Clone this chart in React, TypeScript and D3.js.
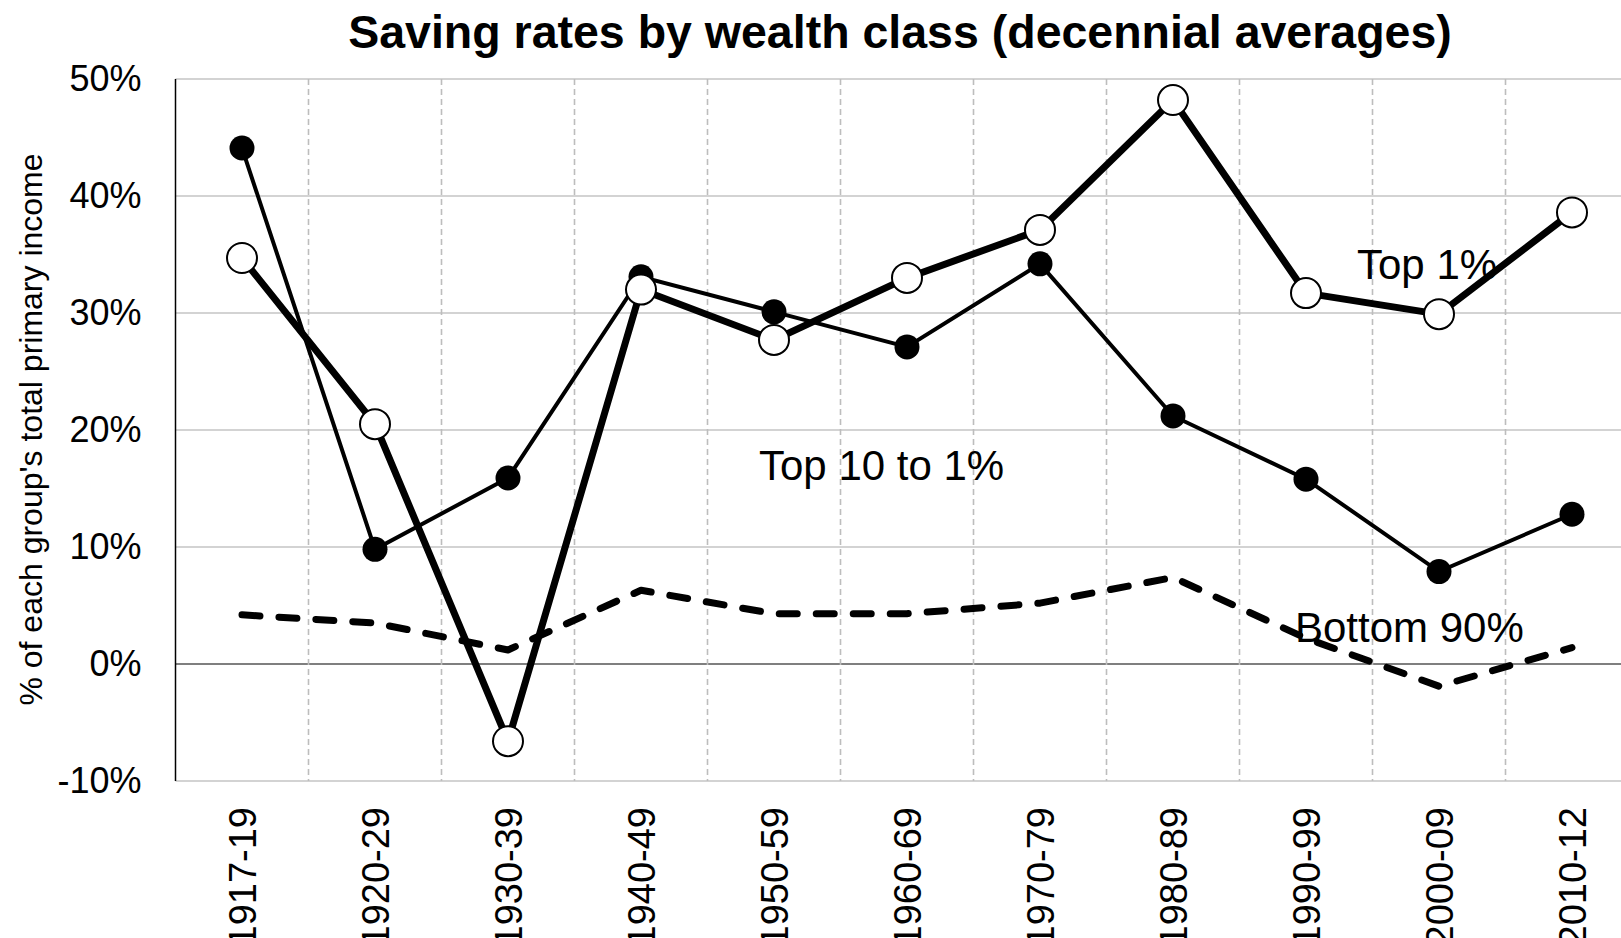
import React, { useEffect, useRef } from 'react';
import * as d3 from 'd3';

// decades on the x axis
const periods = ['1917-19', '1920-29', '1930-39', '1940-49', '1950-59', '1960-69', '1970-79', '1980-89', '1990-99', '2000-09', '2010-12'];

// saving rates, % of each group's total primary income
const top1 = [34.7, 20.5, -6.6, 32.0, 27.7, 33.0, 37.1, 48.2, 31.7, 29.9, 38.6];
const top10to1 = [44.1, 9.8, 15.9, 33.1, 30.1, 27.1, 34.2, 21.2, 15.8, 7.9, 12.8];
const bottom90 = [4.2, 3.5, 1.2, 6.3, 4.3, 4.3, 5.2, 7.4, 2.2, -1.9, 1.4];

const yTicks = [-10, 0, 10, 20, 30, 40, 50];

const labels = [
  { text: 'Top 10 to 1%', period: '1960-69', value: 15.7, dx: -148 },
  { text: 'Top 1%', period: '1990-99', value: 32.9, dx: 51 },
  { text: 'Bottom 90%', period: '1990-99', value: 1.85, dx: -11 },
];

const App = () => {
  const svgRef = useRef<SVGSVGElement | null>(null);

  const width = 1621;
  const height = 938;
  const left = 175.5;
  const step = 133;
  const top = 79;
  const bottom = 781;
  const font = '"Liberation Sans", Arial, sans-serif';

  useEffect(() => {
    const svg = d3.select(svgRef.current);
    svg.selectAll('*').remove();

    const x = d3.scaleBand<string>()
      .domain(periods)
      .range([left, left + step * periods.length])
      .padding(0);
    const cx = (p: string) => (x(p) as number) + x.bandwidth() / 2;

    const y = d3.scaleLinear()
      .domain([-10, 50])
      .range([bottom, top]);

    // horizontal grid
    svg.append('g')
      .selectAll('line')
      .data(yTicks)
      .join('line')
      .attr('x1', left)
      .attr('x2', width)
      .attr('y1', d => y(d))
      .attr('y2', d => y(d))
      .attr('stroke', d => (d === 0 ? '#000' : '#c4c4c4'))
      .attr('stroke-width', d => (d === 0 ? 1.2 : 1.6));

    // vertical dashed grid between periods
    svg.append('g')
      .selectAll('line')
      .data(periods.slice(1))
      .join('line')
      .attr('x1', d => x(d) as number)
      .attr('x2', d => x(d) as number)
      .attr('y1', top)
      .attr('y2', bottom)
      .attr('stroke', '#bdbdbd')
      .attr('stroke-width', 1.6)
      .attr('stroke-dasharray', '6 4');

    // y axis
    svg.append('line')
      .attr('x1', left).attr('x2', left)
      .attr('y1', top).attr('y2', bottom)
      .attr('stroke', '#000')
      .attr('stroke-width', 1.5);

    const yAxis = svg.append('g')
      .attr('transform', `translate(${left},0)`)
      .call(d3.axisLeft(y).tickValues(yTicks).tickSize(0).tickPadding(34).tickFormat(d => `${d}%`));
    yAxis.select('.domain').remove();
    yAxis.selectAll('text')
      .attr('font-family', font)
      .attr('font-size', 36)
      .attr('fill', '#000');

    // x axis labels, rotated
    const xAxis = svg.append('g')
      .attr('transform', `translate(0,${bottom})`)
      .call(d3.axisBottom(x).tickSize(0));
    xAxis.select('.domain').remove();
    xAxis.selectAll('text')
      .attr('font-family', font)
      .attr('font-size', 38)
      .attr('fill', '#000')
      .attr('transform', 'rotate(-90)')
      .attr('x', -26)
      .attr('y', 0)
      .attr('dy', '0.36em')
      .attr('text-anchor', 'end');

    // title
    svg.append('text')
      .attr('x', 900)
      .attr('y', 48)
      .attr('text-anchor', 'middle')
      .attr('font-family', font)
      .attr('font-weight', 'bold')
      .attr('font-size', 46.5)
      .text('Saving rates by wealth class (decennial averages)');

    // y axis title
    svg.append('text')
      .attr('transform', `translate(42,${(152 + 707) / 2}) rotate(-90)`)
      .attr('text-anchor', 'middle')
      .attr('font-family', font)
      .attr('font-size', 32)
      .text("% of each group's total primary income");

    // series labels (under the lines)
    svg.append('g')
      .selectAll('text')
      .data(labels)
      .join('text')
      .attr('x', d => cx(d.period) + d.dx)
      .attr('y', d => y(d.value))
      .attr('font-family', font)
      .attr('font-size', 42)
      .text(d => d.text);

    const line = d3.line<number>()
      .x((_, i) => cx(periods[i]))
      .y(d => y(d));

    // bottom 90%
    svg.append('path')
      .datum(bottom90)
      .attr('fill', 'none')
      .attr('stroke', '#000')
      .attr('stroke-width', 7)
      .attr('stroke-linecap', 'round')
      .attr('stroke-linejoin', 'round')
      .attr('stroke-dasharray', '18 19')
      .attr('d', line);

    // top 10 to 1%
    svg.append('path')
      .datum(top10to1)
      .attr('fill', 'none')
      .attr('stroke', '#000')
      .attr('stroke-width', 4)
      .attr('d', line);
    svg.append('g')
      .selectAll('circle')
      .data(top10to1)
      .join('circle')
      .attr('cx', (_, i) => cx(periods[i]))
      .attr('cy', d => y(d))
      .attr('r', 12.5)
      .attr('fill', '#000');

    // top 1%
    svg.append('path')
      .datum(top1)
      .attr('fill', 'none')
      .attr('stroke', '#000')
      .attr('stroke-width', 7)
      .attr('d', line);
    svg.append('g')
      .selectAll('circle')
      .data(top1)
      .join('circle')
      .attr('cx', (_, i) => cx(periods[i]))
      .attr('cy', d => y(d))
      .attr('r', 15)
      .attr('fill', '#fff')
      .attr('stroke', '#000')
      .attr('stroke-width', 2);
  }, []);

  return (
    <svg
      ref={svgRef}
      width={width}
      height={height}
      style={{ position: 'absolute', left: 0, top: 0, background: '#fff' }}
    />
  );
};

export default App;
